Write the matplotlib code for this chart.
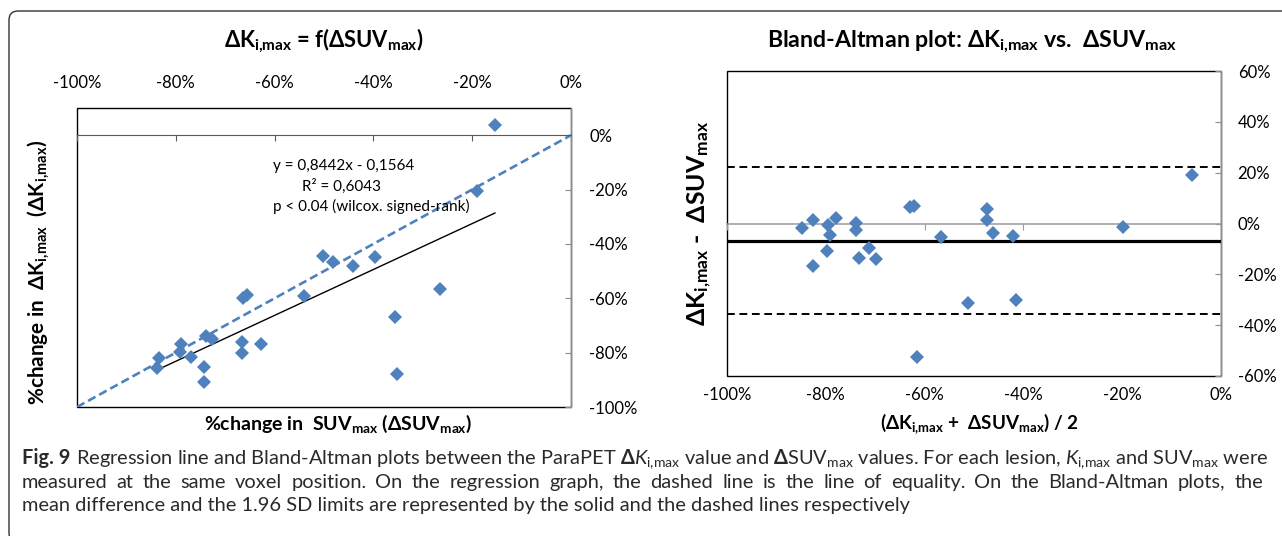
import numpy as np
import matplotlib
matplotlib.use('Agg')
import matplotlib.pyplot as plt
from matplotlib.patches import FancyBboxPatch
from matplotlib.ticker import FuncFormatter

plt.rcParams['font.family'] = ['Lato', 'DejaVu Sans']
plt.rcParams['mathtext.fontset'] = 'custom'
plt.rcParams['mathtext.rm'] = 'Lato'
plt.rcParams['mathtext.it'] = 'Lato:italic'
plt.rcParams['mathtext.bf'] = 'Lato:bold'
plt.rcParams['mathtext.sf'] = 'Lato'
plt.rcParams['mathtext.fallback'] = 'stixsans'

# ---------------- data (percent) ----------------
delta_suv = [-15.4, -19.1, -50.3, -48.1, -44.2, -39.6, -26.5, -54.0, -66.3, -65.6,
             -35.6, -35.3, -62.8, -66.5, -66.6, -73.9, -72.7, -74.2, -74.2, -79.0,
             -79.2, -76.9, -83.3, -83.9]
delta_ki = [3.7, -20.5, -44.4, -46.8, -48.1, -44.7, -56.6, -59.2, -59.8, -58.8,
            -66.9, -87.9, -76.9, -76.2, -80.0, -73.8, -75.1, -85.2, -90.8, -76.9,
            -79.9, -81.5, -81.9, -85.6]
reg_slope = 0.8442
reg_intercept = -15.64
x_ticks = [-100, -80, -60, -40, -20, 0]
y_ticks_reg = [-100, -80, -60, -40, -20, 0]
y_ticks_ba = [-60, -40, -20, 0, 20, 40, 60]
reg_text = ["y = 0,8442x - 0,1564", "R² = 0,6043", "p < 0.04 (wilcox. signed-rank)"]

suv = np.array(delta_suv)
ki = np.array(delta_ki)
ba_mean = (ki + suv) / 2
ba_diff = ki - suv
md = ba_diff.mean()
sd = ba_diff.std(ddof=1)

BLUE = '#4F81BD'
GRAY = '#8C8C8C'
W, H = 1282, 536
fig = plt.figure(figsize=(W / 100, H / 100), dpi=100)

def fx(px):
    return px / W

def fy(py):
    return 1 - py / H

pct = FuncFormatter(lambda v, _: f"{int(round(v))}%")
KI = r'\mathbf{\Delta K_{i{,}max}}'
SUV = r'\mathbf{\Delta SUV_{max}}'

# ---------------- left: regression ----------------
ax1 = fig.add_axes([fx(77), fy(407), (571 - 77) / W, (407 - 108) / H])
ax1.set_xlim(-100, 0)
ax1.set_ylim(-100, 10)
ax1.patch.set_edgecolor('black')
ax1.patch.set_linewidth(1.0)
ax1.spines['left'].set_visible(False)
ax1.spines['top'].set_visible(False)
ax1.spines['bottom'].set_position(('data', 0))
ax1.spines['bottom'].set_color('#5A5A5A')
ax1.spines['right'].set_color(GRAY)
ax1.set_xticks(x_ticks)
ax1.set_yticks(y_ticks_reg)
ax1.xaxis.set_major_formatter(pct)
ax1.yaxis.set_major_formatter(pct)
ax1.tick_params(axis='x', bottom=True, top=False, labelbottom=False, labeltop=True,
                direction='out', length=4, color='#5A5A5A', labelsize=12, pad=8)
ax1.yaxis.tick_right()
ax1.tick_params(axis='y', right=True, left=False, labelright=True, labelleft=False,
                direction='in', length=4, color=GRAY, labelsize=12, pad=13)

ax1.axline((0, 0), slope=1, color=BLUE, lw=1.9, dashes=(3.2, 1.6), zorder=2)
xs = np.array([suv.min(), suv.max()])
ax1.plot(xs, reg_slope * xs + reg_intercept, color='black', lw=1.0, zorder=2)
ax1.plot(suv, ki, 'D', ms=6.8, color=BLUE, mew=0, zorder=3, clip_on=False)

ax1.text(-60.3, -11.4, reg_text[0], fontsize=11, ha='left', va='center')
ax1.text(-54.5, -18.75, reg_text[1], fontsize=11, ha='left', va='center')
ax1.text(-60.3, -26.1, reg_text[2], fontsize=11, ha='left', va='center')

# ---------------- right: Bland-Altman ----------------
ax2 = fig.add_axes([fx(727), fy(376), (1221 - 727) / W, (376 - 71) / H])
ax2.set_xlim(-100, 0)
ax2.set_ylim(-60, 60)
ax2.patch.set_edgecolor('black')
ax2.patch.set_linewidth(1.0)
ax2.spines['left'].set_visible(False)
ax2.spines['bottom'].set_visible(False)
ax2.spines['top'].set_position(('data', 0))
ax2.spines['top'].set_color('#9A9A9A')
ax2.spines['top'].set_linewidth(1.1)
ax2.spines['right'].set_color(GRAY)
ax2.set_xticks(x_ticks)
ax2.set_yticks(y_ticks_ba)
ax2.xaxis.set_major_formatter(pct)
ax2.yaxis.set_major_formatter(pct)
ax2.tick_params(axis='x', bottom=False, top=True, labelbottom=True, labeltop=False,
                direction='in', length=4, color='#9A9A9A', labelsize=12, pad=8)
ax2.yaxis.tick_right()
ax2.tick_params(axis='y', right=True, left=False, labelright=True, labelleft=False,
                direction='in', length=4, color=GRAY, labelsize=12, pad=12)

ax2.axhline(md, color='black', lw=2.3, zorder=2)
ax2.axhline(md + 1.96 * sd, color='black', lw=1.4, dashes=(4, 2.4), zorder=2)
ax2.axhline(md - 1.96 * sd, color='black', lw=1.4, dashes=(4, 2.4), zorder=2)
ax2.plot(ba_mean, ba_diff, 'D', ms=6.8, color=BLUE, mew=0, zorder=3)

# ---------------- titles / labels ----------------
t1 = fig.text(fx(324), fy(47), rf'${KI}$ = f(${SUV}$)',
              fontsize=15, fontweight='bold', ha='center', va='baseline')
t2 = fig.text(fx(972), fy(47), rf'Bland-Altman plot: ${KI}$ vs.  ${SUV}$',
              fontsize=15, fontweight='bold', ha='center', va='baseline')
l1 = fig.text(fx(338), fy(430), rf'%change in  SUV$_{{\mathbf{{max}}}}$ (${SUV}$)',
              fontsize=12, fontweight='bold', ha='center', va='baseline')
l2 = fig.text(fx(38), fy(272), rf'%change in  ${KI}$  (${KI}$)',
              fontsize=12, fontweight='bold', ha='center', va='center', rotation=90)
l3 = fig.text(fx(980), fy(429), rf'(${KI}$ +  ${SUV}$) / 2',
              fontsize=12, fontweight='bold', ha='center', va='baseline')
l4 = fig.text(fx(700), fy(223), rf'${KI}$ -  ${SUV}$',
              fontsize=12, fontweight='bold', ha='center', va='center', rotation=90)

fits = [(t1, 200, 'w'), (t2, 410, 'w'), (l1, 268, 'w'), (l2, 265, 'h'),
        (l3, 198, 'w'), (l4, 205, 'h')]
for _ in range(2):
    fig.canvas.draw()
    r = fig.canvas.get_renderer()
    for t, target, a in fits:
        bb = t.get_window_extent(r)
        cur = bb.width if a == 'w' else bb.height
        t.set_fontsize(t.get_fontsize() * target / cur)

# ---------------- caption ----------------
CAP_COLOR = '#2A2A2A'
cap_fig = 'Fig. 9'
cap_line1 = (r'Regression line and Bland-Altman plots between the ParaPET '
             r'$\mathbf{\Delta}\mathit{K}_{\mathrm{i{,}max}}$ value and '
             r'$\mathbf{\Delta}$SUV$_{\mathrm{max}}$ values. For each lesion, '
             r'$\mathit{K}_{\mathrm{i{,}max}}$ and SUV$_{\mathrm{max}}$ were')
cap_line2 = ('measured at the same voxel position. On the regression graph, the dashed line '
             'is the line of equality. On the Bland-Altman plots, the')
cap_line3 = ('mean difference and the 1.96 SD limits are represented by the solid and '
             'the dashed lines respectively')
cap_y = [464, 488, 511]
cap_x0, cap_x1 = 22, 1264

t_fig = fig.text(fx(cap_x0), fy(cap_y[0]), cap_fig, fontsize=12, fontweight='bold',
                 color=CAP_COLOR, ha='left', va='baseline')
t_l1 = fig.text(fx(cap_x0), fy(cap_y[0]), cap_line1, fontsize=12, color=CAP_COLOR,
                ha='left', va='baseline')
for _ in range(3):
    fig.canvas.draw()
    r = fig.canvas.get_renderer()
    s = t_fig.get_fontsize()
    w9 = t_fig.get_window_extent(r).width
    t_l1.set_x(fx(cap_x0 + w9 + 0.28 * s * 100 / 72))
    fig.canvas.draw()
    right = t_l1.get_window_extent(r).x1
    k = (cap_x1 - cap_x0) / (right - cap_x0)
    t_fig.set_fontsize(s * k)
    t_l1.set_fontsize(s * k)
fig.canvas.draw()
r = fig.canvas.get_renderer()
w9 = t_fig.get_window_extent(r).width
t_l1.set_x(fx(cap_x0 + w9 + 0.28 * t_fig.get_fontsize() * 100 / 72))
cap_size = t_l1.get_fontsize()

# line 2 justified word by word
words = cap_line2.split(' ')
wtexts = [fig.text(0, fy(cap_y[1]), w_, fontsize=cap_size, color=CAP_COLOR,
                   ha='left', va='baseline') for w_ in words]
fig.canvas.draw()
r = fig.canvas.get_renderer()
widths = [t.get_window_extent(r).width for t in wtexts]
gap = ((cap_x1 - 1) - cap_x0 - sum(widths)) / (len(words) - 1)
xpos = cap_x0
for t, wd in zip(wtexts, widths):
    t.set_x(fx(xpos))
    xpos += wd + gap

fig.text(fx(cap_x0), fy(cap_y[2]), cap_line3, fontsize=cap_size, color=CAP_COLOR,
         ha='left', va='baseline')

# outer rounded frame (display pixels)
frame = FancyBboxPatch((9, -6), 1320, 536 - 11 + 6, boxstyle='round,pad=0,rounding_size=9',
                       transform=None, fill=False, edgecolor='#333333', lw=1.0)
fig.add_artist(frame)

fig.savefig('out.png', dpi=100)
